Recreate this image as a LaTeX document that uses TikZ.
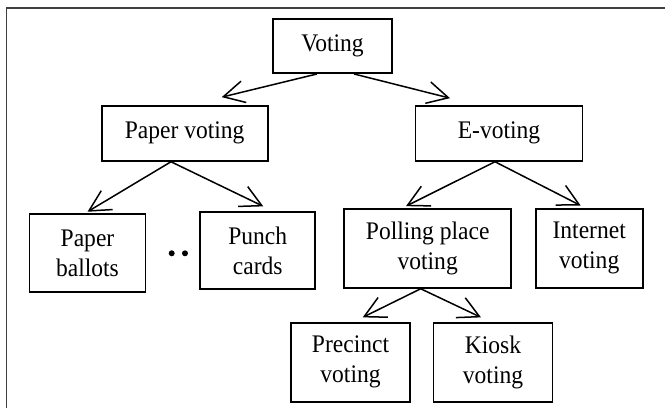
\documentclass[tikz,border=0pt]{standalone}
\usepackage{fontspec}
\setmainfont[FakeStretch=0.93]{Liberation Serif}
\usetikzlibrary{arrows.meta}
\begin{document}
\begin{tikzpicture}[x=1pt,y=-1pt,
  box/.style={draw=black,line width=1.9pt,rectangle,align=center,inner sep=0pt,
    font=\fontsize{25.3}{30}\selectfont},
  arr/.style={line width=1.5pt,-{Straight Barb[length=21pt,width=22pt,line width=1.5pt]}},
  frame/.style={draw=black!75,line width=1.3pt},
  dot/.style={circle,fill=black,inner sep=0pt,minimum size=6pt}]
\useasboundingbox (0,0) rectangle (665,408);
\draw[frame] (665,8) -- (6.5,8) -- (6.5,408);
\node[box,minimum width=119pt,minimum height=54pt] (voting) at (332.5,46) {Voting};
\node[box,minimum width=166pt,minimum height=55pt] (paper) at (184.7,133.3) {Paper voting};
\node[box,minimum width=167pt,minimum height=55pt] (evote) at (499,133.3) {E-voting};
\node[box,minimum width=116pt,minimum height=78pt] (ballots) at (87.5,253.3) {Paper\\ballots};
\node[box,minimum width=115pt,minimum height=77pt] (punch) at (257.7,250.8) {Punch\\cards};
\node[box,minimum width=167pt,minimum height=79pt] (polling) at (427.7,248.3) {Polling place\\voting};
\node[box,minimum width=107pt,minimum height=79pt] (internet) at (589.2,248.3) {Internet\\voting};
\node[box,minimum width=119pt,minimum height=79pt] (precinct) at (350.5,362.2) {Precinct\\voting};
\node[box,minimum width=119pt,minimum height=79pt] (kiosk) at (493,362.2) {Kiosk\\voting};
\node[dot] (dotA) at (171.7,253.3) {};
\node[dot] (dotB) at (185,253.3) {};
\draw[arr] ([xshift=-15.5pt]voting.south) -- ([xshift=37pt,yshift=7.7pt]paper.north);
\draw[arr] ([xshift=21.5pt]voting.south) -- ([xshift=-49pt,yshift=6.7pt]evote.north);
\draw[arr] ([xshift=-13.7pt]paper.south) -- ([xshift=0pt,yshift=1.6pt]ballots.north);
\draw[arr] ([xshift=-13.7pt]paper.south) -- ([xshift=5.6pt,yshift=5pt]punch.north);
\draw[arr] ([xshift=-4pt]evote.south) -- ([xshift=-21.7pt,yshift=1.7pt]polling.north);
\draw[arr] ([xshift=-4pt]evote.south) -- ([xshift=-8.5pt,yshift=2.3pt]internet.north);
\draw[arr] ([xshift=-7pt]polling.south) -- ([xshift=12.2pt,yshift=4.4pt]precinct.north);
\draw[arr] ([xshift=-7pt]polling.south) -- ([xshift=-12pt,yshift=4.4pt]kiosk.north);
\end{tikzpicture}
\end{document}
